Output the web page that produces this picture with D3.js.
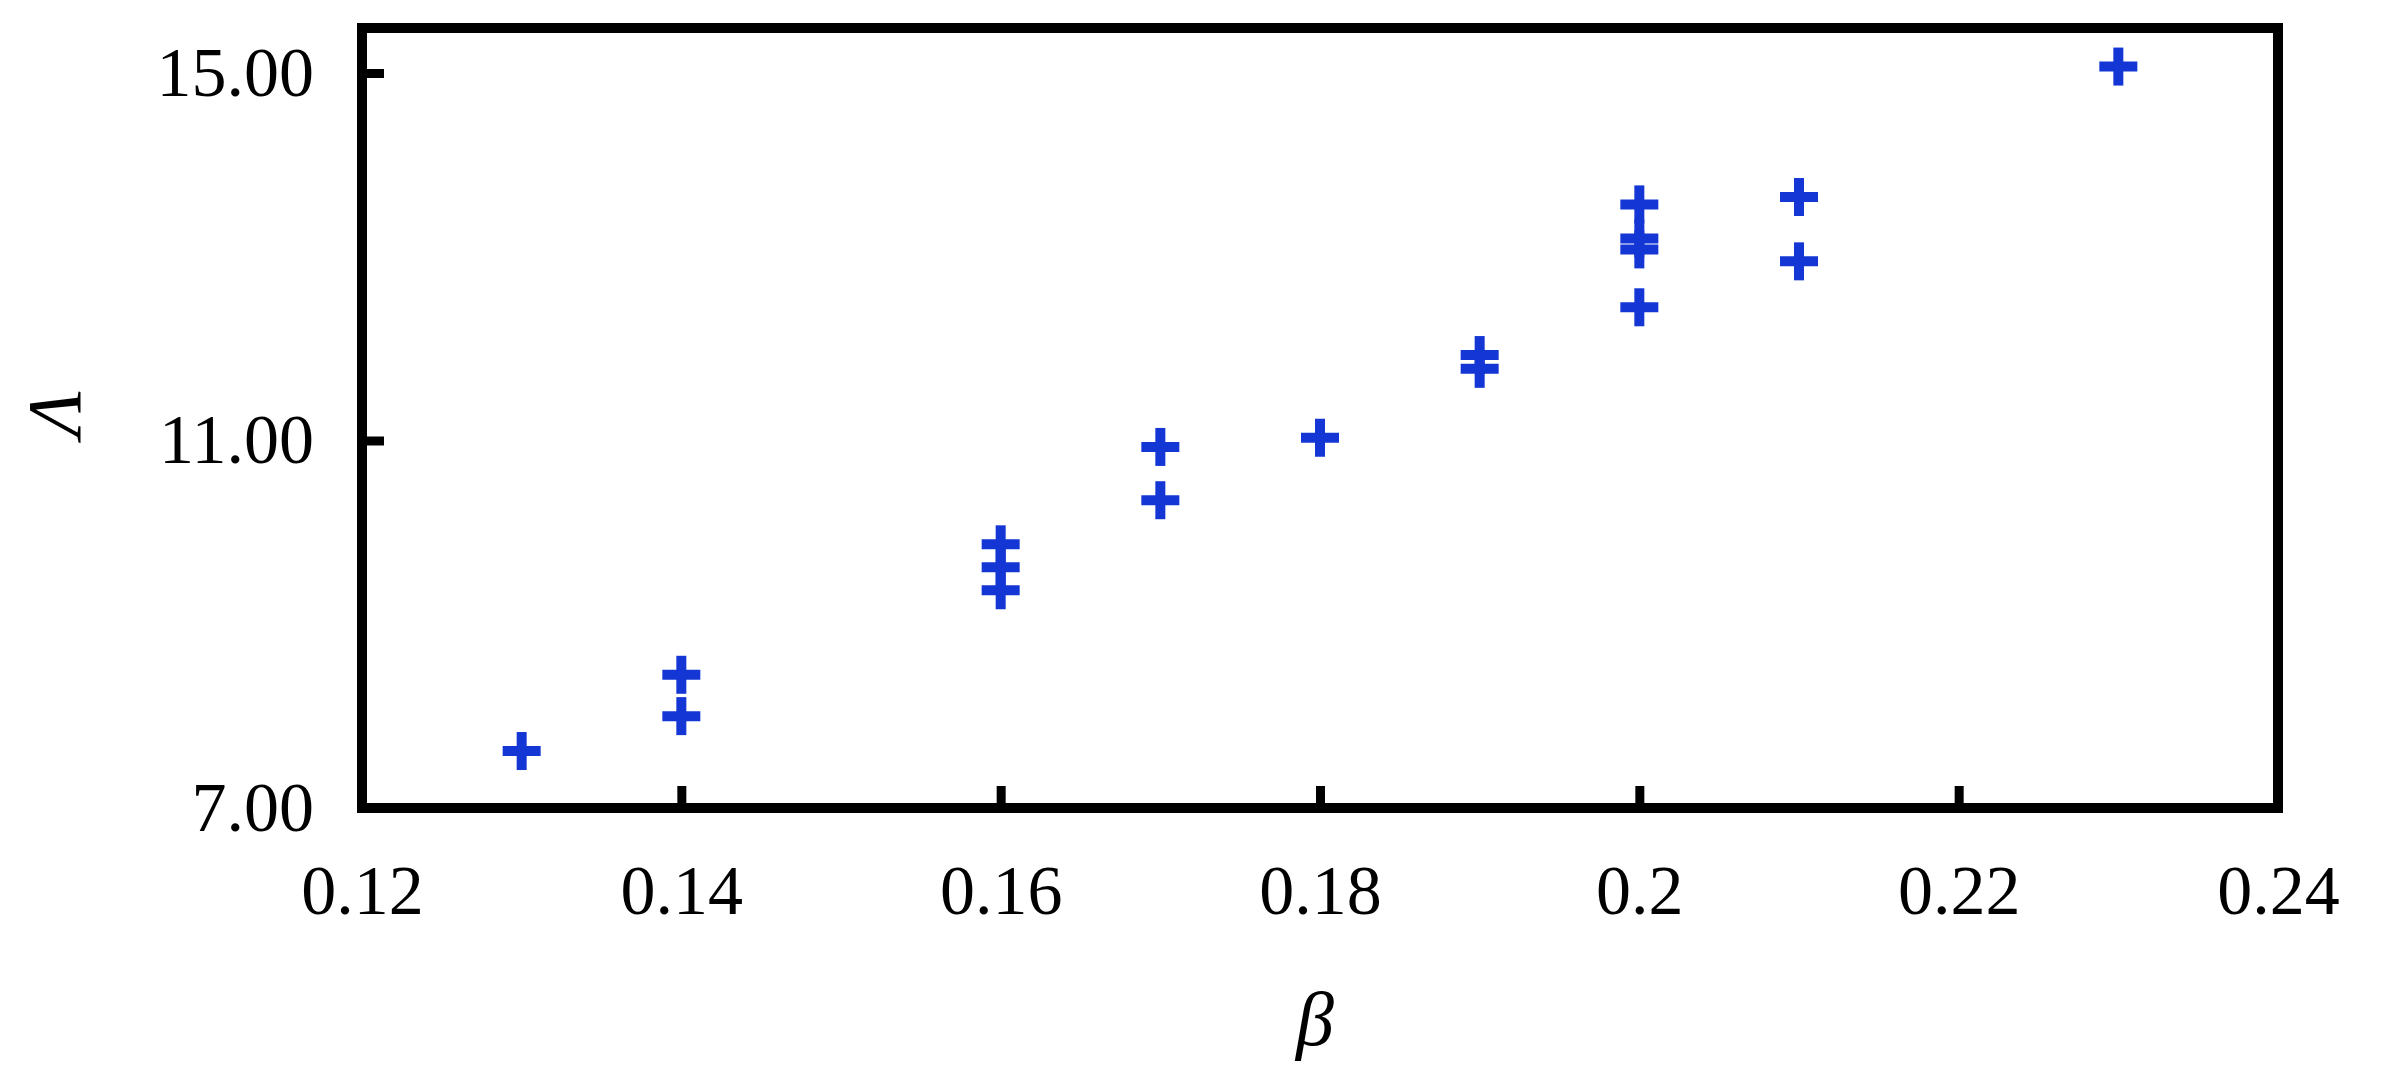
<!DOCTYPE html>
<html>
<head>
<meta charset="utf-8">
<script src="https://cdn.jsdelivr.net/npm/d3@7"></script>
<style>
  body { margin: 0; background: #fff; }
  text { font-family: "Liberation Serif", "DejaVu Serif", serif; }
</style>
</head>
<body>
<svg id="chart" width="2392" height="1074"></svg>
<script>
// beta values and Lambda values
var betaVals = [0.13, 0.14, 0.14, 0.16, 0.16, 0.16, 0.17, 0.17, 0.18, 0.19, 0.19, 0.20, 0.20, 0.20, 0.20, 0.21, 0.21, 0.23];
var lambdaVals = [7.62, 8.45, 8.0, 9.87, 9.62, 9.37, 10.93, 10.35, 11.03, 11.93, 11.78, 13.57, 13.2, 13.08, 12.45, 13.65, 12.95, 15.07];
var xTicks = [0.12, 0.14, 0.16, 0.18, 0.2, 0.22, 0.24];
var yTicks = [7, 11, 15];

var svg = d3.select("#chart");
var pLeft = 362, pRight = 2278, pTop = 28, pBottom = 808;

var xscale = d3.scaleLinear().domain([0.12, 0.24]).range([pLeft, pRight]);
var yscale = d3.scaleLinear().domain([7, 15]).range([pBottom, 73]);

// frame
svg.append("rect")
  .attr("x", pLeft).attr("y", pTop)
  .attr("width", pRight - pLeft).attr("height", pBottom - pTop)
  .attr("fill", "none").attr("stroke", "#000").attr("stroke-width", 10);

// x axis, ticks pointing inward
var xAxis = d3.axisBottom(xscale).tickValues(xTicks).tickSize(-22).tickPadding(56)
  .tickFormat(function(d) { return d3.format("")(+d.toFixed(2)); });
var gx = svg.append("g").attr("transform", "translate(0," + pBottom + ")").call(xAxis);
gx.select(".domain").remove();
gx.selectAll(".tick line").attr("stroke-width", 9).filter(function(d) { return d == 0.12 || d == 0.24; }).remove();
gx.selectAll("text").attr("font-size", 70).attr("fill", "#000");

// y axis, ticks pointing inward
var yAxis = d3.axisLeft(yscale).tickValues(yTicks).tickSize(-22).tickPadding(48)
  .tickFormat(d3.format(".2f"));
var gy = svg.append("g").attr("transform", "translate(" + pLeft + ",0)").call(yAxis);
gy.select(".domain").remove();
gy.selectAll(".tick line").attr("stroke-width", 9).filter(function(d) { return d == 7; }).remove();
gy.selectAll("text").attr("font-size", 70).attr("fill", "#000");

// axis labels
svg.append("text").attr("x", 1315).attr("y", 1045).attr("text-anchor", "middle")
  .attr("font-size", 76).attr("font-style", "italic").text("β");
svg.append("text").attr("transform", "translate(80,414) rotate(-90)").attr("text-anchor", "middle")
  .attr("font-size", 76).attr("font-style", "italic").text("Λ");

// plus markers
var s = 19;
var pts = svg.append("g").attr("stroke", "#1336d4").attr("stroke-width", 10);
betaVals.forEach(function(b, i) {
  var cx = xscale(b), cy = yscale(lambdaVals[i]);
  pts.append("line").attr("x1", cx - s).attr("x2", cx + s).attr("y1", cy).attr("y2", cy);
  pts.append("line").attr("x1", cx).attr("x2", cx).attr("y1", cy - s).attr("y2", cy + s);
});
</script>
</body>
</html>
